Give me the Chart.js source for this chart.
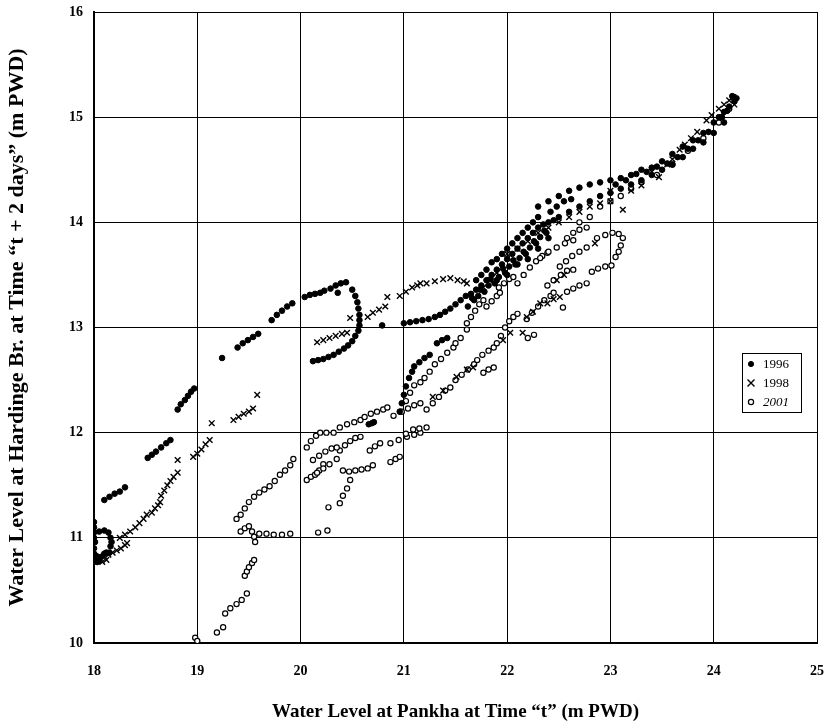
<!DOCTYPE html>
<html>
<head>
<meta charset="utf-8">
<script src="https://cdn.jsdelivr.net/npm/chart.js@4.4.1/dist/chart.umd.min.js"></script>
<style>
  html, body { margin: 0; padding: 0; background: #fff; }
  #wrap { width: 827px; height: 727px; }
</style>
</head>
<body>
<div id="wrap"><canvas id="scatter" width="827" height="727"></canvas></div>
<script>
// Water level pairs (x = Pankha at t, y = Hardinge Br. at t + 2 days)
const x1996 = [
  18.00, 18.00, 18.00, 18.00, 18.01, 18.05, 18.10, 18.14, 18.16, 18.17, 18.16, 18.00, 18.00, 18.01, 18.03, 18.05, 18.07, 18.10, 18.12, 18.15, 18.02, 18.04,
  18.10, 18.15, 18.20, 18.25, 18.30,
  18.52, 18.56, 18.60, 18.65, 18.70, 18.74,
  18.81, 18.84, 18.88, 18.91, 18.94, 18.97,
  19.24, 19.39, 19.44, 19.49, 19.54, 19.59,
  19.72, 19.77, 19.82, 19.87, 19.92,
  20.04, 20.09, 20.14, 20.19, 20.23, 20.29, 20.34, 20.39, 20.44, 20.36,
  20.50, 20.53, 20.55, 20.56, 20.57, 20.57, 20.57, 20.56, 20.53, 20.50, 20.46, 20.42, 20.37, 20.32, 20.27, 20.22, 20.17, 20.12,
  20.79, 21.00, 21.06, 21.12, 21.18, 21.24, 21.30, 21.35, 21.40, 21.45, 21.50, 21.55, 21.60,
  20.66, 20.69, 20.71, 20.96, 20.98, 21.00, 21.02, 21.05, 21.08, 21.10, 21.15, 21.20, 21.25, 21.32, 21.37, 21.42,
  21.65, 21.70, 21.75, 21.80, 21.85, 21.90, 21.95, 22.00, 22.05, 22.10, 22.15, 22.20, 22.25, 22.30, 22.35, 22.40, 22.45, 22.50,
  21.75, 21.85, 21.95, 22.05, 22.15, 22.25, 22.30, 22.40, 22.50, 22.60, 22.70, 22.80, 22.90, 23.00, 23.10, 23.20, 23.30, 23.40,
  23.50, 23.60, 23.70, 23.80, 23.90, 24.00, 24.05, 24.10, 24.15, 24.20, 24.22, 24.18,
  22.60, 22.70, 22.80, 22.90, 23.00, 23.10, 23.20, 23.30, 23.40, 23.50, 23.60, 23.70, 23.80, 23.90, 24.00, 24.10,
  21.90, 22.00, 22.10, 22.20, 22.30, 22.40,
  21.62, 21.68, 21.72, 21.78, 21.82, 21.88, 21.92, 21.98, 22.02, 22.08, 22.12, 22.18, 22.22, 22.28, 22.32, 22.38,
  21.70, 21.80, 21.90, 22.00, 22.10, 22.20, 22.30, 22.42, 22.48, 22.55, 22.62,
  23.05, 23.15, 23.25, 23.35, 23.45, 23.55, 23.65, 23.75, 23.85, 23.95, 24.08, 24.13,
  21.66, 21.74, 21.84, 21.96, 22.06, 22.16, 22.26, 22.36
];
const y1996 = [
  11.15, 11.10, 11.05, 11.00, 10.96, 11.06, 11.07, 11.05, 11.00, 10.96, 10.92, 10.90, 10.85, 10.80, 10.77, 10.78, 10.82, 10.85, 10.86, 10.86, 10.83, 10.80,
  11.36, 11.39, 11.42, 11.44, 11.48,
  11.76, 11.79, 11.82, 11.86, 11.90, 11.93,
  12.22, 12.27, 12.31, 12.35, 12.39, 12.42,
  12.71, 12.81, 12.85, 12.88, 12.91, 12.94,
  13.07, 13.12, 13.16, 13.20, 13.23,
  13.29, 13.31, 13.32, 13.33, 13.35, 13.37, 13.40, 13.42, 13.43, 13.33,
  13.36, 13.30, 13.24, 13.18, 13.12, 13.07, 13.02, 12.97, 12.92, 12.87, 12.83, 12.80, 12.77, 12.74, 12.72, 12.70, 12.69, 12.68,
  13.02, 13.04, 13.05, 13.06, 13.07, 13.08, 13.10, 13.12, 13.15, 13.18, 13.22, 13.26, 13.30,
  12.08, 12.09, 12.10, 12.20, 12.28, 12.36, 12.44, 12.52, 12.58, 12.63, 12.67, 12.71, 12.74, 12.85, 12.88, 12.90,
  13.32, 13.36, 13.40, 13.45, 13.50, 13.55, 13.60, 13.65, 13.70, 13.75, 13.80, 13.85, 13.90, 13.95, 13.98, 14.00, 14.02, 14.05,
  13.50, 13.62, 13.70, 13.80, 13.90, 14.00, 14.15, 14.20, 14.25, 14.30, 14.33, 14.36, 14.38, 14.40, 14.42, 14.45, 14.50, 14.52,
  14.58, 14.65, 14.72, 14.78, 14.85, 14.95, 15.00, 15.05, 15.10, 15.15, 15.18, 15.20,
  14.10, 14.15, 14.20, 14.25, 14.28, 14.32, 14.36, 14.40, 14.45, 14.50, 14.55, 14.62, 14.70, 14.76, 14.85, 14.95,
  13.45, 13.50, 13.60, 13.65, 13.75, 13.85,
  13.20, 13.26, 13.30, 13.34, 13.40, 13.42, 13.48, 13.52, 13.58, 13.60, 13.66, 13.70, 13.76, 13.80, 13.86, 13.90,
  13.45, 13.55, 13.65, 13.75, 13.85, 13.95, 14.05, 14.10, 14.15, 14.20, 14.22,
  14.36, 14.40, 14.46, 14.48, 14.53, 14.56, 14.62, 14.70, 14.78, 14.86, 15.00, 15.06,
  13.28, 13.36, 13.46, 13.56, 13.64, 13.72, 13.82, 13.92
];

const x1998 = [
  18.03, 18.06, 18.10, 18.14, 18.18, 18.22, 18.26, 18.30, 18.32, 18.08, 18.12,
  18.25, 18.30, 18.35, 18.40, 18.44, 18.48, 18.51, 18.56, 18.59, 18.62, 18.64,
  18.65, 18.68, 18.71, 18.74, 18.77, 18.81, 18.81,
  18.96, 19.00, 19.04, 19.08, 19.12, 19.14, 19.35, 19.40, 19.45, 19.50, 19.54, 19.58,
  20.16, 20.22, 20.28, 20.34, 20.40, 20.45, 20.48, 20.65, 20.70, 20.76, 20.82, 20.84,
  20.96, 21.02, 21.08, 21.13, 21.16, 21.22, 21.30, 21.38, 21.45, 21.52, 21.58, 21.61,
  21.77, 21.83, 21.90, 21.96, 22.03, 22.15, 22.19, 22.25, 22.32, 22.39, 22.45, 22.51, 22.48, 22.55,
  21.28, 21.38, 21.51, 21.61, 21.67,
  22.00, 22.10, 22.20, 22.30, 22.40, 22.50, 22.60, 22.70, 22.80, 22.85, 22.90, 23.00, 23.00, 23.12,
  23.20, 23.30, 23.40, 23.47, 23.55, 23.60, 23.67, 23.72, 23.78, 23.84, 23.93, 23.98, 24.05, 24.10, 24.15, 24.19, 24.20
];
const y1998 = [
  10.79, 10.80, 10.82, 10.84, 10.86, 10.88, 10.90, 10.93, 10.95, 10.77, 10.79,
  11.00, 11.03, 11.06, 11.10, 11.14, 11.18, 11.22, 11.24, 11.28, 11.31, 11.34,
  11.40, 11.45, 11.50, 11.54, 11.58, 11.62, 11.74,
  11.77, 11.80, 11.84, 11.89, 11.93, 12.09, 12.12, 12.15, 12.18, 12.20, 12.23, 12.36,
  12.86, 12.88, 12.90, 12.92, 12.94, 12.95, 13.09, 13.10, 13.14, 13.17, 13.20, 13.29,
  13.30, 13.34, 13.38, 13.40, 13.42, 13.42, 13.44, 13.46, 13.47, 13.45, 13.44, 13.42,
  13.38, 13.45, 13.52, 12.88, 12.95, 12.95, 13.10, 13.15, 13.23, 13.23, 13.27, 13.29, 13.45, 13.50,
  12.34, 12.40, 12.53, 12.60, 12.62,
  13.70, 13.75, 13.82, 13.90, 13.95, 14.00, 14.05, 14.10, 14.15, 13.80, 14.18, 14.20, 14.30, 14.12,
  14.30, 14.35, 14.48, 14.43, 14.55, 14.60, 14.69, 14.74, 14.80, 14.86, 14.97, 15.02, 15.08, 15.12, 15.16, 15.19, 15.12
];

const x2001 = [
  18.98, 19.00, 19.19, 19.25, 19.27, 19.32, 19.38, 19.43, 19.48, 19.46, 19.48, 19.50, 19.53, 19.55,
  19.42, 19.46, 19.50, 19.53, 19.55, 19.56, 19.60, 19.67, 19.74, 19.82, 19.90, 20.17, 20.26,
  19.38, 19.42, 19.46, 19.50, 19.55, 19.60, 19.65, 19.70, 19.75, 19.80, 19.85, 19.90, 19.93,
  20.06, 20.10, 20.14, 20.18, 20.22, 20.16, 20.22, 20.28, 20.35, 20.41, 20.47, 20.53, 20.59, 20.65, 20.70,
  20.87, 20.92, 20.96, 20.38, 20.41, 20.45, 20.48, 20.27, 20.67, 20.72, 20.77, 20.87, 20.95, 21.03, 21.10, 21.16,
  20.38, 20.43, 20.48, 20.53, 20.58, 20.12, 20.18, 20.24, 20.30, 20.35, 20.06, 20.10, 20.15, 20.19, 20.25, 20.32,
  20.38, 20.45, 20.52, 20.58, 20.62, 20.68, 20.74, 20.80, 20.84, 20.90, 20.97, 21.04, 21.10, 21.16,
  21.02, 21.09, 21.15, 21.22, 20.98, 21.02, 21.06, 21.10, 21.16, 21.20, 21.25, 21.30, 21.36, 21.42, 21.48, 21.50, 21.55, 21.61,
  21.22, 21.28, 21.34, 21.40, 21.45, 21.50, 21.56, 21.62, 21.68, 21.71, 21.76, 21.82, 21.87, 21.77, 21.82, 21.87,
  21.90, 21.94, 21.98, 22.02, 22.06, 22.10, 21.61, 21.65, 21.69, 21.73, 21.77, 21.80, 21.85, 21.90, 21.93,
  21.92, 21.97, 22.02, 22.06, 22.19, 22.24, 22.30, 22.36, 22.42, 22.45, 22.54, 22.58, 22.64, 22.70, 22.77,
  22.39, 22.45, 22.52, 22.58, 22.64, 22.51, 22.57, 22.63, 22.70, 22.77, 22.10, 22.16, 22.22, 22.28, 22.34, 22.39,
  22.32, 22.40, 22.48, 22.56, 22.64, 22.58, 22.64, 22.70, 22.77, 22.87, 22.95, 23.02, 23.08, 23.12, 23.10, 23.08, 23.05,
  22.82, 22.88, 22.95, 23.01, 22.20, 22.26,
  22.70, 22.80, 22.90, 23.00, 23.10, 23.20, 23.30, 23.45, 23.60, 23.75, 23.90, 24.05, 24.15
];
const y2001 = [
  10.05, 10.02, 10.10, 10.15, 10.28, 10.33, 10.37, 10.41, 10.47, 10.64, 10.68, 10.72, 10.76, 10.79,
  11.06, 11.09, 11.11, 11.06, 11.01, 10.96, 11.04, 11.04, 11.03, 11.03, 11.04, 11.05, 11.07,
  11.18, 11.22, 11.28, 11.34, 11.39, 11.43, 11.46, 11.49, 11.54, 11.60, 11.64, 11.69, 11.75,
  11.55, 11.58, 11.60, 11.64, 11.70, 11.62, 11.66, 11.70, 11.75, 11.64, 11.63, 11.64, 11.65, 11.66, 11.69,
  11.72, 11.75, 11.77, 11.33, 11.40, 11.47, 11.55, 11.29, 11.83, 11.87, 11.90, 11.90, 11.93, 11.96, 11.98, 12.00,
  11.83, 11.88, 11.92, 11.95, 11.96, 11.74, 11.78, 11.82, 11.85, 11.86, 11.86, 11.92, 11.97, 12.00, 12.00, 12.00,
  12.05, 12.08, 12.10, 12.12, 12.15, 12.18, 12.20, 12.22, 12.24, 12.16, 12.20, 12.23, 12.26, 12.28,
  11.99, 12.03, 12.04, 12.05, 12.20, 12.30, 12.38, 12.45, 12.48, 12.52, 12.58, 12.65, 12.70, 12.76, 12.81, 12.85, 12.90, 12.98,
  12.22, 12.28, 12.34, 12.40, 12.43, 12.50, 12.55, 12.60, 12.65, 12.69, 12.74, 12.78, 12.81, 12.57, 12.60, 12.62,
  12.85, 12.92, 13.00, 13.06, 13.10, 13.13, 13.04, 13.10, 13.16, 13.22, 13.26, 13.20, 13.25, 13.30, 13.33,
  13.38, 13.42, 13.46, 13.48, 13.08, 13.14, 13.20, 13.26, 13.30, 13.33, 13.19, 13.34, 13.37, 13.40, 13.42,
  13.40, 13.45, 13.50, 13.54, 13.55, 13.58, 13.63, 13.68, 13.72, 13.76, 13.42, 13.50, 13.57, 13.63, 13.68, 13.71,
  13.66, 13.72, 13.76, 13.80, 13.83, 13.85, 13.90, 13.93, 13.95, 13.85, 13.88, 13.90, 13.89, 13.85, 13.78, 13.72, 13.67,
  13.53, 13.56, 13.58, 13.59, 12.90, 12.93,
  14.00, 14.05, 14.15, 14.20, 14.25, 14.32, 14.38, 14.45, 14.55, 14.68, 14.80, 14.95, 15.08
];

const xRange = [18, 25];
const yRange = [10, 16];
const seriesLabels = ['1996', '1998', '2001'];

const serif = "'Liberation Serif', 'Times New Roman', serif";

const pairs = (xs, ys) => xs.map((x, i) => ({ x: x, y: ys[i] }));

// small boxed legend sitting inside the plot, right side
const boxLegend = {
  id: 'boxLegend',
  afterDraw(chart) {
    const ctx = chart.ctx;
    const x0 = 742, y0 = 353;
    const w = 59, h = 59, row = 19;
    ctx.save();
    ctx.fillStyle = '#fff';
    ctx.fillRect(x0, y0, w, h);
    ctx.strokeStyle = '#000';
    ctx.lineWidth = 1;
    ctx.strokeRect(x0 + 0.5, y0 + 0.5, w, h);
    chart.data.datasets.forEach((ds, i) => {
      const cy = y0 + 11 + i * row;
      const cx = x0 + 9;
      ctx.strokeStyle = '#000';
      ctx.fillStyle = ds.pointBackgroundColor;
      ctx.lineWidth = ds.pointBorderWidth;
      if (ds.pointStyle === 'crossRot') {
        ctx.beginPath();
        ctx.moveTo(cx - 3.5, cy - 3.5); ctx.lineTo(cx + 3.5, cy + 3.5);
        ctx.moveTo(cx + 3.5, cy - 3.5); ctx.lineTo(cx - 3.5, cy + 3.5);
        ctx.stroke();
      } else {
        ctx.beginPath();
        ctx.arc(cx, cy, 2.6, 0, Math.PI * 2);
        ctx.fill();
        ctx.stroke();
      }
      ctx.fillStyle = '#000';
      ctx.font = (i === 2 ? 'italic ' : '') + '13px ' + serif;
      ctx.textBaseline = 'middle';
      ctx.fillText(ds.label, x0 + 21, cy + 1);
    });
    ctx.restore();
  }
};

new Chart(document.getElementById('scatter'), {
  type: 'scatter',
  data: {
    datasets: [
      {
        label: seriesLabels[0],
        data: pairs(x1996, y1996),
        pointStyle: 'circle',
        pointRadius: 2.8,
        pointBackgroundColor: '#000',
        pointBorderColor: '#000',
        pointBorderWidth: 1
      },
      {
        label: seriesLabels[1],
        data: pairs(x1998, y1998),
        pointStyle: 'crossRot',
        pointRadius: 4,
        pointBackgroundColor: '#000',
        pointBorderColor: '#000',
        pointBorderWidth: 1.4
      },
      {
        label: seriesLabels[2],
        data: pairs(x2001, y2001),
        pointStyle: 'circle',
        pointRadius: 2.6,
        pointBackgroundColor: '#fff',
        pointBorderColor: '#000',
        pointBorderWidth: 1.2
      }
    ]
  },
  options: {
    responsive: false,
    animation: false,
    events: [],
    layout: { padding: { top: 12, right: 10, left: 0, bottom: 0 } },
    plugins: {
      legend: { display: false },
      tooltip: { enabled: false }
    },
    scales: {
      x: {
        type: 'linear',
        min: xRange[0],
        max: xRange[1],
        afterFit: (scale) => {
          scale.height = 84;
          scale.paddingLeft = 0;
          scale.paddingRight = 0;
        },
        ticks: {
          stepSize: 1,
          padding: 20,
          color: '#000',
          font: { family: serif, size: 14, weight: 'bold' }
        },
        grid: { color: '#000', lineWidth: 1, drawTicks: false },
        border: { color: '#000', width: 2 },
        title: {
          display: true,
          text: 'Water Level at Pankha at Time \u201ct\u201d (m PWD)',
          color: '#000',
          font: { family: serif, size: 19, weight: 'bold' },
          padding: { top: 16 }
        }
      },
      y: {
        type: 'linear',
        min: yRange[0],
        max: yRange[1],
        afterFit: (scale) => {
          scale.width = 94;
          scale.paddingTop = 0;
          scale.paddingBottom = 0;
        },
        ticks: {
          stepSize: 1,
          padding: 11,
          color: '#000',
          font: { family: serif, size: 14, weight: 'bold' }
        },
        grid: { color: '#000', lineWidth: 1, drawTicks: false },
        border: { color: '#000', width: 2 },
        title: {
          display: true,
          text: 'Water Level at Hardinge Br. at Time \u201ct + 2 days\u201d (m PWD)',
          color: '#000',
          font: { family: serif, size: 22, weight: 'bold' },
          padding: { bottom: 10 }
        }
      }
    }
  },
  plugins: [boxLegend]
});
</script>
</body>
</html>
